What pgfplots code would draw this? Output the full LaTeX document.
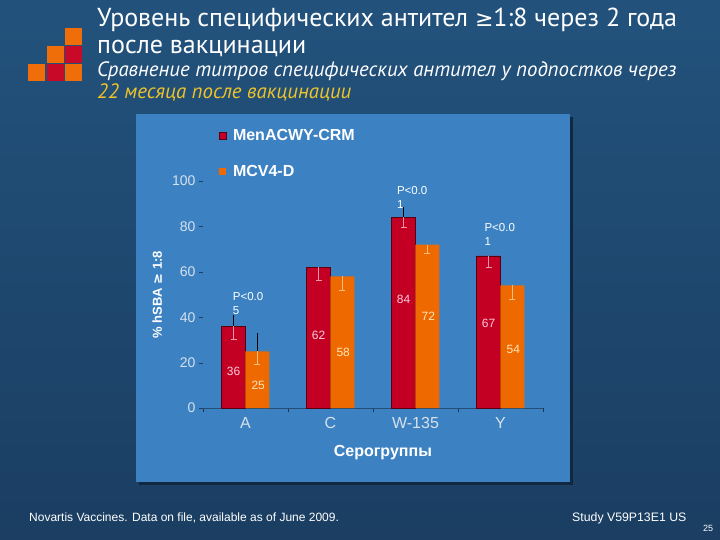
\documentclass[border=0pt]{standalone}
\usepackage{pgfplots}
\pgfplotsset{compat=1.18}
\usepackage{fontspec}
\setmainfont{Liberation Sans}
\newfontfamily\titlefont{PT Sans}
\newfontfamily\symfont{DejaVu Sans}

\definecolor{bgtop}{RGB}{34,82,124}
\definecolor{bgbot}{RGB}{27,62,98}
\definecolor{panel}{RGB}{60,130,195}
\definecolor{barred}{RGB}{195,0,35}
\definecolor{barorange}{RGB}{238,105,0}
\definecolor{subyellow}{RGB}{240,195,40}
\definecolor{ticktext}{RGB}{215,225,235}
\definecolor{pinkerr}{RGB}{235,150,170}
\definecolor{peacherr}{RGB}{250,190,130}
\definecolor{pinklab}{RGB}{248,205,220}
\definecolor{creamlab}{RGB}{255,232,185}
\definecolor{logoor}{RGB}{240,110,10}
\definecolor{logored}{RGB}{200,10,40}

\begin{document}
\begin{tikzpicture}
\begin{scope}[x=1pt,y=-1pt]
  \shade[top color=bgtop,bottom color=bgbot] (0,0) rectangle (720,540);
  \fill[black!35!bgbot] (139,117) rectangle (573,485);
  \fill[panel] (136,114) rectangle (570,482);
  % logo
  \fill[logoor]  (65,28) rectangle (82,45);
  \fill[logoor]  (47,46) rectangle (64,63);
  \fill[logored] (65,46) rectangle (82,63);
  \fill[logoor]  (28,64) rectangle (45,81);
  \fill[logored] (47,64) rectangle (64,81);
  \fill[logoor]  (65,64) rectangle (82,81);
  % titles
  \node[anchor=base west,inner sep=0,text=white,font=\titlefont\fontsize{26}{26}\selectfont] at (97,27) {Уровень специфических антител {\symfont\fontsize{22}{22}\selectfont≥}1:8 через 2 года};
  \node[anchor=base west,inner sep=0,text=white,font=\titlefont\fontsize{26}{26}\selectfont] at (97,54) {после вакцинации};
  \node[anchor=base west,inner sep=0,text=white,font=\titlefont\itshape\fontsize{20.8}{20.8}\selectfont] at (97,77) {Сравнение титров специфических антител у подпостков через};
  \node[anchor=base west,inner sep=0,text=subyellow,font=\titlefont\itshape\fontsize{20.8}{20.8}\selectfont] at (97,99) {22 месяца после вакцинации};
  % footer
  \node[anchor=base west,inner sep=0,text=white,font=\fontsize{12}{12}\selectfont] at (29,521) {Novartis Vaccines. Data on file, available as of June 2009.};
  \node[anchor=base west,inner sep=0,text=white,font=\fontsize{12.3}{12.3}\selectfont] at (572,521) {Study V59P13E1 US};
  \node[anchor=base west,inner sep=0,text=white,font=\fontsize{9}{9}\selectfont] at (703,531) {25};
\end{scope}

\begin{axis}[
  at={(203pt,-408pt)}, anchor=south west,
  scale only axis, width=340pt, height=227pt,
  xmin=-0.5, xmax=3.5, ymin=0, ymax=100,
  clip=false,
  /pgf/number format/assume math mode=true,
  axis x line=bottom, axis y line=left,
  axis line style={-},
  x axis line style={draw=black!40!panel, line width=0.8pt},
  y axis line style={draw=none},
  xtick={0,1,2,3}, xticklabels={A,C,W-135,Y},
  major x tick style={draw=none},
  minor xtick={-0.5,0.5,1.5,2.5,3.5},
  minor x tick style={draw=black!60!panel},
  minor tick length=4pt,
  ytick={0,20,...,100},
  y tick style={draw=black!50!panel},
  major tick length=4pt, tick align=outside,
  yticklabel style={text=ticktext,font=\fontsize{14}{14}\selectfont},
  xticklabel style={text=ticktext,font=\fontsize{16}{16}\selectfont,yshift=-2pt},
  ylabel={\% hSBA {\symfont≥} 1:8},
  ylabel style={at={(axis description cs:-0.135,0.5)},anchor=center,text=white,font=\bfseries\fontsize{13}{13}\selectfont},
  xlabel={Серогруппы},
  xlabel style={at={(axis description cs:0.529,-0.198)},anchor=center,text=white,font=\bfseries\fontsize{16}{16}\selectfont},
  legend style={at={(axis description cs:0.045,1.236)},anchor=north west,draw=none,fill=none,
    text=white,font=\bfseries\fontsize{16}{16}\selectfont,row sep=19pt,inner sep=0pt,
    nodes={inner xsep=7pt}},
  legend cell align=left,
  legend image code/.code={\fill (0pt,-3.5pt) rectangle (7pt,3.5pt);},
]
\addplot[ybar,bar width=24pt,bar shift=0pt,fill=barred,draw=black!55!barred,line width=0.5pt,
  error bars/.cd,y dir=minus,y explicit,
  error bar style={pinkerr,line width=0.6pt},
  error mark options={rotate=90,pinkerr,mark size=3pt}]
  coordinates {(-0.141,36) +- (0,5.5) (0.859,62) +- (0,5.5) (1.859,84) +- (0,4.5) (2.859,67) +- (0,5)};
\addlegendentry{MenACWY-CRM}
\addplot[ybar,bar width=24pt,bar shift=0pt,fill=barorange,draw=none,
  error bars/.cd,y dir=minus,y explicit,
  error bar style={peacherr,line width=0.6pt},
  error mark options={rotate=90,peacherr,mark size=3pt}]
  coordinates {(0.141,25) +- (0,5.5) (1.141,58) +- (0,6) (2.141,72) +- (0,4) (3.141,54) +- (0,6)};
\addlegendentry{MCV4-D}
% upper halves of the error bars that show above the bars
\addplot[ybar,bar width=24pt,bar shift=0pt,draw=none,fill=none,forget plot,
  error bars/.cd,y dir=plus,y explicit,error bar style={black,line width=0.7pt},error mark=none]
  coordinates {(-0.141,36) +- (0,5) (1.859,84) +- (0,4.5) (0.141,25) +- (0,8)};
% values in the bars
\node[text=pinklab,font=\fontsize{12}{12}\selectfont] at (axis cs:-0.14,16) {36};
\node[text=pinklab,font=\fontsize{12}{12}\selectfont] at (axis cs:0.86,32) {62};
\node[text=pinklab,font=\fontsize{12}{12}\selectfont] at (axis cs:1.86,48) {84};
\node[text=pinklab,font=\fontsize{12}{12}\selectfont] at (axis cs:2.86,37.5) {67};
\node[text=creamlab,font=\fontsize{12}{12}\selectfont] at (axis cs:0.15,10) {25};
\node[text=creamlab,font=\fontsize{12}{12}\selectfont] at (axis cs:1.15,24.5) {58};
\node[text=creamlab,font=\fontsize{12}{12}\selectfont] at (axis cs:2.15,40.5) {72};
\node[text=creamlab,font=\fontsize{12}{12}\selectfont] at (axis cs:3.15,26) {54};
% p values
\node[anchor=north west,inner sep=0,align=left,text=white,font=\fontsize{11.5}{14.5}\selectfont] at (axis cs:-0.15,51) {P<0.0\\5};
\node[anchor=north west,inner sep=0,align=left,text=white,font=\fontsize{11.5}{14.5}\selectfont] at (axis cs:1.78,97.8) {P<0.0\\1};
\node[anchor=north west,inner sep=0,align=left,text=white,font=\fontsize{11.5}{14.5}\selectfont] at (axis cs:2.81,81.5) {P<0.0\\1};
\end{axis}
\end{tikzpicture}
\end{document}
